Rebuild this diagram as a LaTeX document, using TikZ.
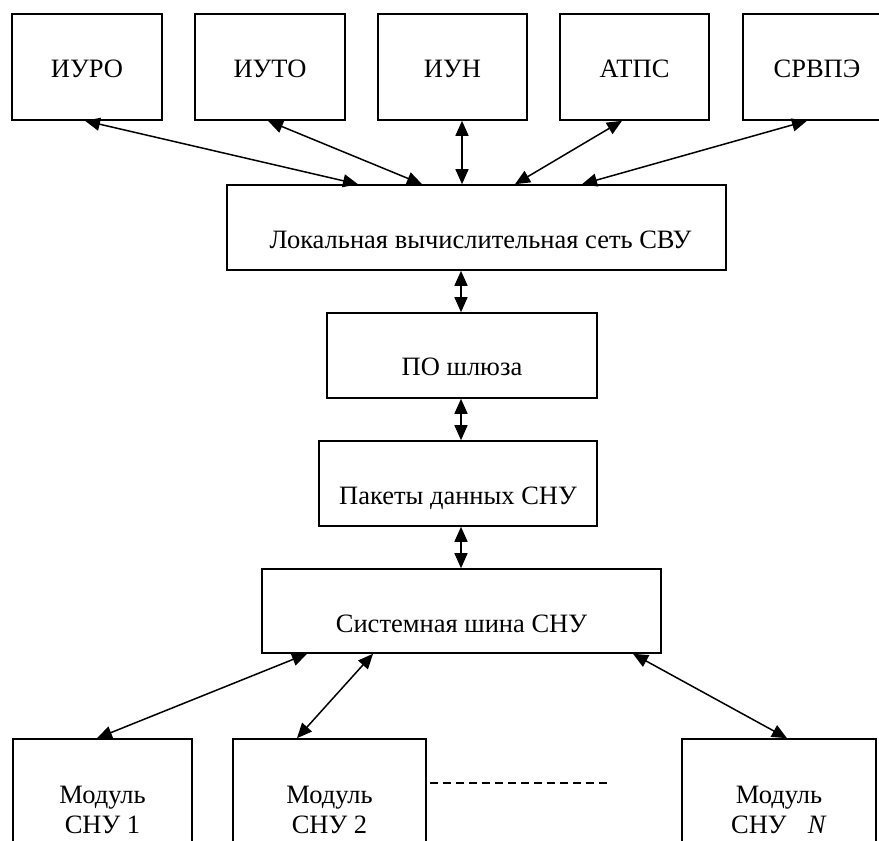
\documentclass[tikz,border=0pt]{standalone}
\usepackage{fontspec}
\setmainfont{Liberation Serif}
\usetikzlibrary{arrows.meta,calc}
\tikzset{
  box/.style={draw=black, line width=1.6pt, rectangle, inner sep=0pt},
  lbl/.style={inner sep=0pt, anchor=base, font=\fontsize{26.5}{30}\selectfont},
  biarrow/.style={line width=1.5pt, {Triangle[length=15pt,width=13pt]}-{Triangle[length=15pt,width=13pt]}},
}
\begin{document}
\begin{tikzpicture}[x=1pt,y=-1pt]
\clip (0,0) rectangle (879,841);
\fill[white] (0,0) rectangle (879,841);
% top boxes
\node[box, minimum width=150pt, minimum height=106pt] (iuro) at (87,67) {};
\node[box, minimum width=150pt, minimum height=106pt] (iuto) at (270,67) {};
\node[box, minimum width=149pt, minimum height=106pt] (iun) at (452.5,67) {};
\node[box, minimum width=149pt, minimum height=106pt] (atps) at (634.5,67) {};
\node[box, minimum width=150pt, minimum height=106pt] (srvpe) at (818,67) {};
\node[lbl] (tiuro) at (87,77) {ИУРО};
\node[lbl] (tiuto) at (270,77) {ИУТО};
\node[lbl] (tiun) at (452.5,77) {ИУН};
\node[lbl] (tatps) at (634.5,77) {АТПС};
\node[lbl] (tsrvpe) at (817,77) {СРВПЭ};
% middle chain
\node[box, minimum width=499pt, minimum height=85pt] (lvs) at (476.5,227.5) {};
\node[lbl] (tlvs) at (480.5,248) {Локальная вычислительная сеть СВУ};
\node[box, minimum width=270pt, minimum height=85pt] (po) at (462,355.5) {};
\node[lbl] (tpo) at (462,375) {ПО шлюза};
\node[box, minimum width=278pt, minimum height=85pt] (pak) at (458,483.5) {};
\node[lbl] (tpak) at (458,504) {Пакеты данных СНУ};
\node[box, minimum width=399pt, minimum height=84pt] (sys) at (461.5,611) {};
\node[lbl] (tsys) at (461.5,632) {Системная шина СНУ};
% bottom boxes
\node[box, minimum width=179pt, minimum height=130pt] (m1) at (102.5,804) {};
\node[box, minimum width=193pt, minimum height=130pt] (m2) at (329.5,804) {};
\node[box, minimum width=194pt, minimum height=130pt] (mn) at (779,804) {};
\node[lbl] (tm1a) at (102.5,803) {Модуль};
\node[lbl] (tm1b) at (102.5,833) {СНУ 1};
\node[lbl] (tm2a) at (329.5,803) {Модуль};
\node[lbl] (tm2b) at (329.5,833) {СНУ 2};
\node[lbl] (tmna) at (779,803) {Модуль};
\node[lbl] (tmnb) at (779,833) {СНУ\hspace{0.8em}\textit{N}};
% dashed
\coordinate (d1) at (430,783);
\coordinate (d2) at (610,783);
\draw[line width=1.5pt, dash pattern=on 8pt off 5pt] (d1) -- (d2);
% arrows top
\draw[biarrow] ([xshift=-2pt]iuro.south) -- ([xshift=-118.5pt]lvs.north);
\draw[biarrow] ([xshift=-2pt]iuto.south) -- ([xshift=-54.5pt]lvs.north);
\draw[biarrow] ([xshift=9.5pt]iun.south) -- ([xshift=-14.5pt]lvs.north);
\draw[biarrow] ([xshift=-12.5pt]atps.south) -- ([xshift=38.5pt]lvs.north);
\draw[biarrow] ([xshift=-11pt]srvpe.south) -- ([xshift=105.5pt]lvs.north);
% chain
\draw[biarrow] ([xshift=-15.5pt]lvs.south) -- ([xshift=-1pt]po.north);
\draw[biarrow] ([xshift=-1pt]po.south) -- ([xshift=3pt]pak.north);
\draw[biarrow] ([xshift=3pt]pak.south) -- ([xshift=-0.5pt]sys.north);
% bottom arrows
\draw[biarrow] ([xshift=-154.5pt]sys.south) -- ([xshift=-5.5pt]m1.north);
\draw[biarrow] ([xshift=-88.5pt]sys.south) -- ([xshift=-32.5pt]m2.north);
\draw[biarrow] ([xshift=171.5pt]sys.south) -- ([xshift=8pt]mn.north);
\end{tikzpicture}
\end{document}
